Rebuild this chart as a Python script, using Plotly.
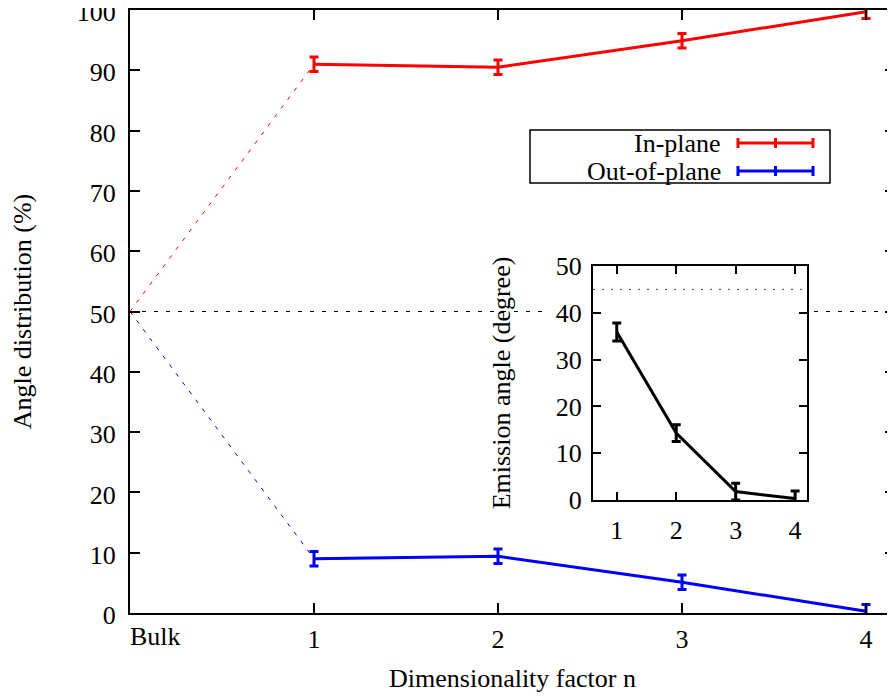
import plotly.graph_objects as go

# ---------------- data ----------------
dimensionality = [1, 2, 3, 4]
main_tick_labels = ["1", "2", "3", "4"]
bulk_label = "Bulk"
bulk_x = 0
bulk_value = 50
in_plane = [91.0, 90.5, 94.9, 99.7]
in_plane_err = [1.2, 1.2, 1.2, 1.1]
out_of_plane = [9.0, 9.4, 5.1, 0.3]
out_of_plane_err = [1.2, 1.2, 1.2, 1.1]
emission_angle = [35.9, 14.3, 1.8, 0.3]
emission_err = [1.9, 1.8, 1.8, 1.6]
isotropic_angle = 45
series_names = ["In-plane", "Out-of-plane"]

# ---------------- layout helpers ----------------
W, H = 895, 700
OFF = 8  # page body margin offset
ML, MR, MT, MB = 122, 8, 2, 95
PW = W - ML - MR
PH = H - MT - MB


def px(x):  # page pixel -> paper x
    return (x - OFF - ML) / PW


def py(y):  # page pixel -> paper y
    return (H - MB - (y - OFF)) / PH


FONT = "Liberation Serif"
FS = 26
RED = "#ff0000"
BLUE = "#0000ff"
BLACK = "#000000"

fig = go.Figure()

# dashed connectors from bulk value to n=1
fig.add_trace(go.Scatter(x=[bulk_x, dimensionality[0]], y=[bulk_value, in_plane[0]],
                         mode="lines", line=dict(color=RED, width=1, dash="4px,7px"),
                         showlegend=False, hoverinfo="skip"))
fig.add_trace(go.Scatter(x=[bulk_x, dimensionality[0]], y=[bulk_value, out_of_plane[0]],
                         mode="lines", line=dict(color=BLUE, width=1, dash="4px,7px"),
                         showlegend=False, hoverinfo="skip"))

# main series
fig.add_trace(go.Scatter(x=dimensionality, y=in_plane, mode="lines", name=series_names[0],
                         line=dict(color=RED, width=3), cliponaxis=False, showlegend=False,
                         error_y=dict(type="data", array=in_plane_err, color=RED,
                                      thickness=3, width=4.5)))
fig.add_trace(go.Scatter(x=dimensionality, y=out_of_plane, mode="lines", name=series_names[1],
                         line=dict(color=BLUE, width=3), cliponaxis=False, showlegend=False,
                         error_y=dict(type="data", array=out_of_plane_err, color=BLUE,
                                      thickness=3, width=4.5)))

# inset series
fig.add_trace(go.Scatter(x=dimensionality, y=emission_angle, mode="lines", xaxis="x2", yaxis="y2",
                         line=dict(color=BLACK, width=3), showlegend=False, cliponaxis=False,
                         error_y=dict(type="data", array=emission_err, color=BLACK,
                                      thickness=3, width=4.5)))

axis_common = dict(showline=True, linewidth=2, linecolor=BLACK, mirror="ticks",
                   ticks="inside", tickcolor=BLACK, tickwidth=1.5, showgrid=False,
                   zeroline=False, ticklabeloverflow="allow",
                   tickfont=dict(family=FONT, size=FS, color=BLACK))

shapes = []
# horizontal dashed reference at bulk value (below everything)
shapes.append(dict(type="line", xref="paper", yref="y", x0=0, x1=1, y0=bulk_value, y1=bulk_value,
                   line=dict(color=BLACK, width=1, dash="4px,8px"), layer="below"))
# white background behind the inset
shapes.append(dict(type="rect", xref="paper", yref="paper", x0=px(545), x1=px(812),
                   y0=py(550), y1=py(255), fillcolor="white", line=dict(width=0), layer="below"))
# inset dotted line at isotropic angle
shapes.append(dict(type="line", xref="x2 domain", yref="y2", x0=0, x1=1,
                   y0=isotropic_angle, y1=isotropic_angle,
                   line=dict(color="#444444", width=1, dash="2px,7px"), layer="above"))

# manual legend box
shapes.append(dict(type="rect", xref="paper", yref="paper", x0=px(530), x1=px(830),
                   y0=py(183), y1=py(130), line=dict(color=BLACK, width=1.5), layer="above"))
annotations = []
for i, (name, col) in enumerate(zip(series_names, [RED, BLUE])):
    yrow = 143 + 28 * i
    shapes.append(dict(type="line", xref="paper", yref="paper", x0=px(738), x1=px(813),
                       y0=py(yrow), y1=py(yrow), line=dict(color=col, width=3), layer="above"))
    for xc in (738, 775.5, 813):
        shapes.append(dict(type="line", xref="paper", yref="paper", x0=px(xc), x1=px(xc),
                           y0=py(yrow - 5), y1=py(yrow + 5), line=dict(color=col, width=3),
                           layer="above"))
    annotations.append(dict(text=name, xref="paper", yref="paper", x=px(723), y=py(yrow),
                            xanchor="right", yanchor="middle", showarrow=False,
                            font=dict(family=FONT, size=FS, color=BLACK)))

annotations.append(dict(text=bulk_label, xref="x", yref="paper", x=bulk_x, y=py(620),
                        xanchor="left", yanchor="top", showarrow=False, xshift=-2,
                        font=dict(family=FONT, size=FS, color=BLACK)))

fig.update_layout(
    width=W, height=H, margin=dict(l=ML, r=MR, t=MT, b=MB, autoexpand=False),
    paper_bgcolor="white", plot_bgcolor="rgba(0,0,0,0)",
    font=dict(family=FONT, size=FS, color=BLACK),
    xaxis=dict(domain=[0, 1], range=[0, PW / 184.0], tickvals=dimensionality,
               ticktext=main_tick_labels, ticklen=10, anchor="y", ticklabelstandoff=2,
               title=dict(text="Dimensionality factor n", font=dict(family=FONT, size=FS), standoff=16),
               **axis_common),
    yaxis=dict(domain=[0, 1], range=[0, 100], dtick=10, ticklen=10, anchor="x",
               ticklabelstandoff=7, ticklabelshift=2,
               title=dict(text="Angle distribution (%)", font=dict(family=FONT, size=FS), standoff=62),
               **axis_common),
    xaxis2=dict(domain=[px(593), px(807)], range=[0.6, 4.2], tickvals=dimensionality,
                ticklen=8, anchor="y2", ticklabelstandoff=6, **axis_common),
    yaxis2=dict(domain=[py(500), py(266)], range=[0, 50], dtick=10, ticklen=8, anchor="x2",
                ticklabelstandoff=4,
                title=dict(text="Emission angle (degree)", font=dict(family=FONT, size=FS), standoff=38),
                **axis_common),
    shapes=shapes, annotations=annotations, showlegend=False,
)

fig.write_html("out.html")
